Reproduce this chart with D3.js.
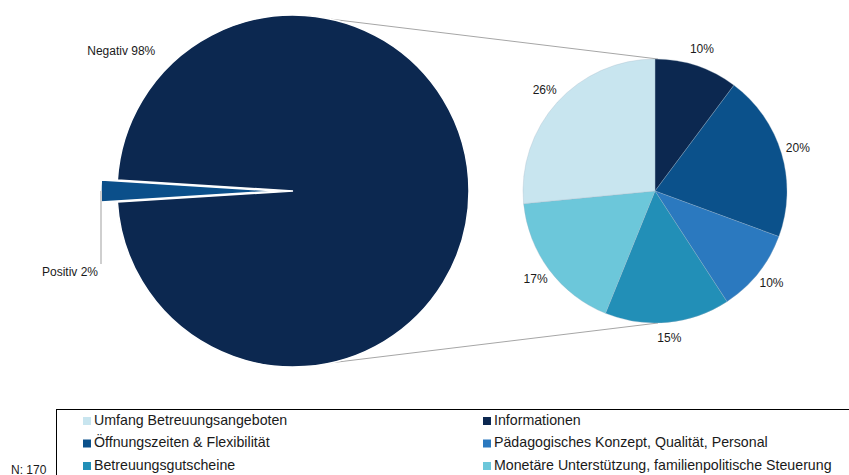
<!DOCTYPE html>
<html>
<head>
<meta charset="utf-8">
<script src="https://cdn.jsdelivr.net/npm/d3@7"></script>
<style>
  html, body { margin: 0; padding: 0; background: #fff; }
  svg { display: block; font-family: "Liberation Sans", Arial, sans-serif; }
</style>
</head>
<body>
<svg id="chart" width="849" height="475"></svg>
<script>
// ---- data ----
const bigCats = ["Positiv", "Negativ"];
const bigValues = [2, 98];
const bigColors = ["#0b4f8a", "#0c2850"];

const smallCats = [
  "Informationen",
  "Öffnungszeiten & Flexibilität",
  "Pädagogisches Konzept, Qualität, Personal",
  "Betreuungsgutscheine",
  "Monetäre Unterstützung, familienpolitische Steuerung",
  "Umfang Betreuungsangeboten"
];
const smallValues = [10, 20, 10, 15, 17, 26];
const smallColors = ["#0c2850", "#0b518b", "#2b79bf", "#228fb7", "#6cc7da", "#c8e5ef"];

const legendOrder = [
  "Umfang Betreuungsangeboten",
  "Informationen",
  "Öffnungszeiten & Flexibilität",
  "Pädagogisches Konzept, Qualität, Personal",
  "Betreuungsgutscheine",
  "Monetäre Unterstützung, familienpolitische Steuerung"
];
const sampleNote = "N: 170";

// ---- layout ----
const svg = d3.select("#chart");
const big = { cx: 293, cy: 191, r: 176, explode: 16 };
const small = { cx: 655, cy: 191, r: 132, labelR: 149 };
const connectorAngle = 12.5 * Math.PI / 180;

const total = d3.sum(bigValues);
const posSpan = 2 * Math.PI * bigValues[0] / total;
const bigPie = d3.pie().sort(null)
  .startAngle(3 * Math.PI / 2 - posSpan / 2)
  .endAngle(3 * Math.PI / 2 - posSpan / 2 + 2 * Math.PI);
const bigArcs = bigPie(bigValues);
const bigArc = d3.arc().innerRadius(0).outerRadius(big.r);

const smallPie = d3.pie().sort(null).startAngle(0).endAngle(2 * Math.PI);
const smallArcs = smallPie(smallValues);
const smallArc = d3.arc().innerRadius(0).outerRadius(small.r);
const smallLabelArc = d3.arc().innerRadius(small.labelR).outerRadius(small.labelR);

// connector lines
const conn = [
  [[big.cx + big.r * Math.sin(connectorAngle), big.cy - big.r * Math.cos(connectorAngle)], [small.cx + 3, small.cy - small.r]],
  [[big.cx + big.r * Math.sin(Math.PI - connectorAngle), big.cy - big.r * Math.cos(Math.PI - connectorAngle)], [small.cx + 3, small.cy + small.r]]
];
svg.append("g").selectAll("line").data(conn).join("line")
  .attr("x1", d => d[0][0]).attr("y1", d => d[0][1])
  .attr("x2", d => d[1][0]).attr("y2", d => d[1][1])
  .attr("stroke", "#a6a6a6").attr("stroke-width", 1);

// big pie
const gBig = svg.append("g").attr("transform", `translate(${big.cx},${big.cy})`);
gBig.selectAll("path").data(bigArcs).join("path")
  .attr("d", bigArc)
  .attr("fill", (d, i) => bigColors[i])
  .attr("stroke", "#fff").attr("stroke-width", 1.5)
  .attr("transform", (d, i) => {
    if (i !== 0) return null;
    const mid = (d.startAngle + d.endAngle) / 2;
    return `translate(${big.explode * Math.sin(mid)},${-big.explode * Math.cos(mid)})`;
  });

// positiv leader + label
{
  const d = bigArcs[0];
  const mid = (d.startAngle + d.endAngle) / 2;
  const rr = big.r + big.explode;
  const x0 = big.cx + rr * Math.sin(mid);
  const y0 = big.cy - rr * Math.cos(mid);
  svg.append("line")
    .attr("x1", x0).attr("y1", y0).attr("x2", x0).attr("y2", y0 + 73)
    .attr("stroke", "#cfcfcf").attr("stroke-width", 2);
  svg.append("text")
    .attr("x", x0 - 3).attr("y", y0 + 82)
    .attr("text-anchor", "end").attr("dominant-baseline", "middle")
    .attr("font-size", 12).attr("fill", "#1a1a1a")
    .text(`${bigCats[0]} ${bigValues[0]}%`);
}
// negativ label (placed upper-left of big pie)
{
  const a = -51 * Math.PI / 180;
  const rr = 221;
  svg.append("text")
    .attr("x", big.cx + rr * Math.sin(a)).attr("y", big.cy - rr * Math.cos(a))
    .attr("text-anchor", "middle").attr("dominant-baseline", "middle")
    .attr("font-size", 12).attr("fill", "#1a1a1a")
    .text(`${bigCats[1]} ${bigValues[1]}%`);
}

// small pie
const gSmall = svg.append("g").attr("transform", `translate(${small.cx},${small.cy})`);
gSmall.selectAll("path").data(smallArcs).join("path")
  .attr("d", smallArc)
  .attr("fill", (d, i) => smallColors[i])
  .attr("stroke", "#9fb3c4").attr("stroke-width", 0.5).attr("stroke-opacity", 0.6);
gSmall.selectAll("text").data(smallArcs).join("text")
  .attr("transform", d => `translate(${smallLabelArc.centroid(d)})`)
  .attr("text-anchor", "middle").attr("dominant-baseline", "middle")
  .attr("font-size", 12).attr("fill", "#1a1a1a")
  .text(d => `${d.value}%`);

// legend
const legend = svg.append("g");
legend.append("rect")
  .attr("x", 56.5).attr("y", 409.5).attr("width", 820).attr("height", 120)
  .attr("fill", "none").attr("stroke", "#000").attr("stroke-width", 1);
const colX = [83, 483];
const rowY = [421, 443.5, 466];
const items = legend.selectAll("g.item").data(legendOrder).join("g")
  .attr("class", "item")
  .attr("transform", (d, i) => `translate(${colX[i % 2]},${rowY[Math.floor(i / 2)]})`);
items.append("rect")
  .attr("x", 0).attr("y", -4).attr("width", 8).attr("height", 8)
  .attr("fill", d => smallColors[smallCats.indexOf(d)]);
items.append("text")
  .attr("x", 11).attr("y", 0).attr("dominant-baseline", "middle")
  .attr("font-size", 14.2).attr("fill", "#1a1a1a")
  .text(d => d);

svg.append("text")
  .attr("x", 11).attr("y", 471).attr("dominant-baseline", "middle")
  .attr("font-size", 12).attr("fill", "#1a1a1a")
  .text(sampleNote);
</script>
</body>
</html>
